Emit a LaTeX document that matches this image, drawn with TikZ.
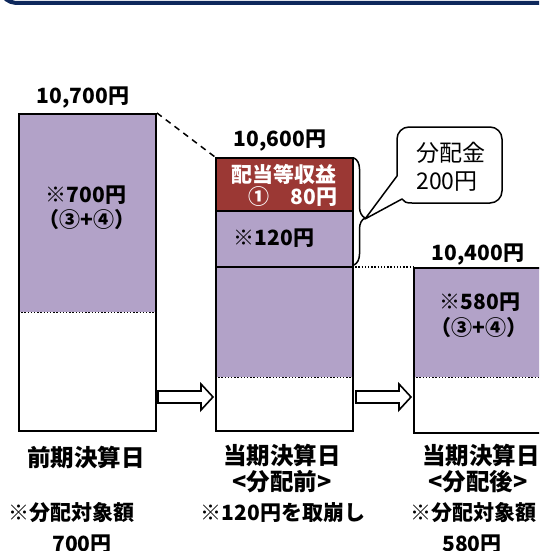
\documentclass[tikz,border=0pt]{standalone}
\usepackage{fontspec}
\setmainfont{Noto Sans CJK JP}
\usetikzlibrary{decorations.pathreplacing}
\definecolor{pur}{RGB}{178,162,200}
\definecolor{dred}{RGB}{155,56,52}
\definecolor{navy}{RGB}{14,40,92}
\begin{document}
\begin{tikzpicture}[x=1pt,y=-1pt,
  bx/.style={draw, line width=2pt, inner sep=0pt, anchor=north west, minimum width=137pt},
  fillbx/.style={fill=pur, inner sep=0pt, anchor=north west, minimum width=137pt},
  dotl/.style={line width=1.3pt, dash pattern=on 1.3pt off 1.9pt},
  sepl/.style={line width=2pt},
  blk/.style={draw, fill=white, line width=1.6pt, line join=miter},
  lbl/.style={font=\fontsize{21}{24}\selectfont\bfseries, inner sep=0pt},
  hd/.style={font=\fontsize{23.5}{27}\selectfont\bfseries, inner sep=0pt},
  co/.style={font=\fontsize{23}{26}\selectfont, inner sep=0pt}]
\useasboundingbox (0,0) rectangle (539,551);
\clip (0,0) rectangle (539,551);
\draw[navy, line width=4pt] (3,-4) .. controls (8,2) and (12,3) .. (20,3) -- (545,3);

% fills
\node[fillbx, minimum height=199pt] (p1) at (18,113) {};
\node[fillbx, fill=dred, minimum height=54pt] (r2) at (215,157) {};
\node[fillbx, minimum height=166pt] (p2) at (215,211) {};
\node[fillbx, minimum width=150pt, minimum height=110pt] (p3) at (413,267) {};
% dotted lines
\draw[dotl] (p1.south west) -- (p1.south east);
\draw[dotl] (p2.south west) -- (p2.south east);
\draw[dotl] (p3.south west) -- (p3.south east);
% separators
\coordinate (m2) at (215,267);
\coordinate (m2e) at (352,267);
\draw[sepl] (r2.south west) -- (r2.south east);
\draw[sepl] (m2) -- (m2e);
% outlines
\node[bx, minimum height=317pt] (b1) at (18,113) {};
\node[bx, minimum height=273pt] (b2) at (215,157) {};
\node[bx, minimum width=150pt, minimum height=165pt] (b3) at (413,267) {};

% connectors
\draw[line width=1.5pt, dash pattern=on 6pt off 5pt] (b1.north east) -- (b2.north west);
\draw[dotl] (m2e) -- (b3.north west);

% brace
\draw[line width=1.5pt, decorate, decoration={brace, amplitude=11pt, aspect=0.56}] (354,158) -- (354,265);
\coordinate (tip) at (365,219);

% callout
\draw[line width=1.5pt, line cap=round, line join=round] (397,176) -- (tip) -- (402,199) .. controls (404,202) and (406,203) .. (412,203) [rounded corners=12pt] -- (502,203) -- (502,127) -- (397,127) -- (397,176);
\node[co] (c1) at (451,153) {分配金};
\node[co] (c2) at (447,182) {200円};

% block arrows
\draw[blk] (158,391) -- (201,391) -- (201,384) -- (213,397) -- (201,410) -- (201,403) -- (158,403) -- cycle;
\draw[blk] (356,391) -- (399,391) -- (399,384) -- (411,397) -- (399,410) -- (399,403) -- (356,403) -- cycle;

% labels above boxes
\node[lbl] (t1) at (83,98) {10,700円};
\node[lbl] (t2) at (280,141) {10,600円};
\node[lbl] (t3) at (478,255) {10,400円};

% inside labels
\node[lbl] (i1a) at (86,195) {※700円};
\node[lbl] (i1b) at (87,220) {（③+④）};
\node[lbl, text=white] (i2a) at (284,174) {配当等収益};
\node[lbl, text=white] (i2b) at (293,197) {①　80円};
\node[lbl] (i2c) at (274,238) {※120円};
\node[lbl] (i3a) at (480,302) {※580円};
\node[lbl] (i3b) at (479,328) {（③+④）};

% bottom labels
\node[hd] (h1) at (86,457) {前期決算日};
\node[hd] (h2) at (282,455) {当期決算日};
\node[hd] (h2b) at (282,482) {<分配前>};
\node[hd] (h3) at (481,455) {当期決算日};
\node[hd] (h3b) at (478,482) {<分配後>};
\node[lbl] (n1) at (72,513) {※分配対象額};
\node[lbl] (n1b) at (82,544) {700円};
\node[lbl] (n2) at (283,513) {※120円を取崩し};
\node[lbl] (n3) at (473,513) {※分配対象額};
\node[lbl] (n3b) at (472,544) {580円};
\end{tikzpicture}
\end{document}
